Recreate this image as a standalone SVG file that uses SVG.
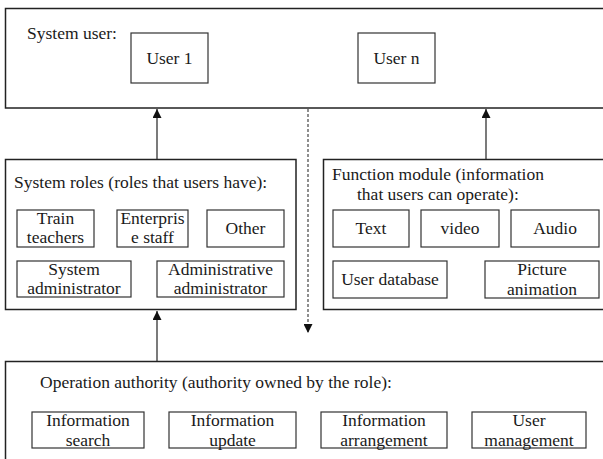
<svg xmlns="http://www.w3.org/2000/svg" width="603" height="459" viewBox="0 0 603 459">
<style>
text{font-family:"Liberation Serif","Times New Roman",serif;font-size:17.5px;fill:#1a1a1a}
.c{text-anchor:middle}
.outer{fill:#fff;stroke:#222;stroke-width:1.5}
.box{fill:#fff;stroke:#333;stroke-width:1.2}
.ln{stroke:#333;stroke-width:1.3;fill:none}
.dash{stroke:#444;stroke-width:1.2;stroke-dasharray:3 2;fill:none}
</style>
<defs>
<marker id="ah" viewBox="0 0 10 10" refX="10" refY="5" markerWidth="9" markerHeight="9" markerUnits="userSpaceOnUse" orient="auto">
<path d="M0,0 L10,5 L0,10 z" fill="#111"/>
</marker>
</defs>
<rect width="603" height="459" fill="#fff"/>

<g id="system-user">
<rect class="outer" x="5.5" y="8.5" width="610" height="99.5"/>
<text x="27" y="39">System user:</text>
<g id="user1"><rect class="box" x="131" y="33" width="77" height="50"/><text class="c" x="169.5" y="64">User 1</text></g>
<g id="usern"><rect class="box" x="358" y="33" width="77" height="50"/><text class="c" x="396.5" y="64">User n</text></g>
</g>

<g id="system-roles">
<rect class="outer" x="5.5" y="159.5" width="290.5" height="150"/>
<text x="14" y="188">System roles (roles that users have):</text>
<g id="train"><rect class="box" x="17" y="210" width="77" height="37"/><text class="c" x="55.5" y="223.5">Train</text><text class="c" x="55.5" y="243">teachers</text></g>
<g id="enterprise"><rect class="box" x="117" y="210" width="71" height="37"/><text class="c" x="152.5" y="223.5">Enterpris</text><text class="c" x="152.5" y="243">e staff</text></g>
<g id="other"><rect class="box" x="207" y="210" width="77" height="37"/><text class="c" x="245.5" y="234">Other</text></g>
<g id="sysadmin"><rect class="box" x="17" y="261" width="114" height="36"/><text class="c" x="74" y="274.5">System</text><text class="c" x="74" y="294">administrator</text></g>
<g id="adminadmin"><rect class="box" x="157" y="261" width="127" height="36"/><text class="c" x="220.5" y="274.5">Administrative</text><text class="c" x="220.5" y="294">administrator</text></g>
</g>

<g id="function-module">
<rect class="outer" x="323.5" y="159.5" width="290" height="150"/>
<text x="332" y="180">Function module (information</text>
<text x="357" y="200">that users can operate):</text>
<g id="text"><rect class="box" x="333" y="210" width="76" height="37"/><text class="c" x="371" y="234">Text</text></g>
<g id="video"><rect class="box" x="421" y="210" width="78" height="37"/><text class="c" x="460" y="234">video</text></g>
<g id="audio"><rect class="box" x="511" y="210" width="88" height="37"/><text class="c" x="555" y="234">Audio</text></g>
<g id="userdb"><rect class="box" x="333" y="261" width="114" height="37"/><text class="c" x="390" y="285">User database</text></g>
<g id="picture"><rect class="box" x="485" y="261" width="114" height="37"/><text class="c" x="542" y="275">Picture</text><text class="c" x="542" y="295">animation</text></g>
</g>

<g id="operation-authority">
<rect class="outer" x="5.5" y="361.5" width="610" height="110"/>
<text x="40" y="388">Operation authority (authority owned by the role):</text>
<g id="search"><rect class="box" x="32" y="412" width="112" height="36"/><text class="c" x="88" y="426">Information</text><text class="c" x="88" y="445.5">search</text></g>
<g id="update"><rect class="box" x="169" y="412" width="127" height="36"/><text class="c" x="232.5" y="426">Information</text><text class="c" x="232.5" y="445.5">update</text></g>
<g id="arrangement"><rect class="box" x="321" y="412" width="126" height="36"/><text class="c" x="384" y="426">Information</text><text class="c" x="384" y="445.5">arrangement</text></g>
<g id="usermgmt"><rect class="box" x="472" y="412" width="114" height="36"/><text class="c" x="529" y="426">User</text><text class="c" x="529" y="445.5">management</text></g>
</g>

<g id="connectors">
<line class="ln" x1="157" y1="159" x2="157" y2="109" marker-end="url(#ah)"/>
<line class="ln" x1="486" y1="159" x2="486" y2="109" marker-end="url(#ah)"/>
<line class="ln" x1="157" y1="361" x2="157" y2="311" marker-end="url(#ah)"/>
<line class="dash" x1="308" y1="109" x2="308" y2="333" marker-end="url(#ah)"/>
</g>
</svg>
